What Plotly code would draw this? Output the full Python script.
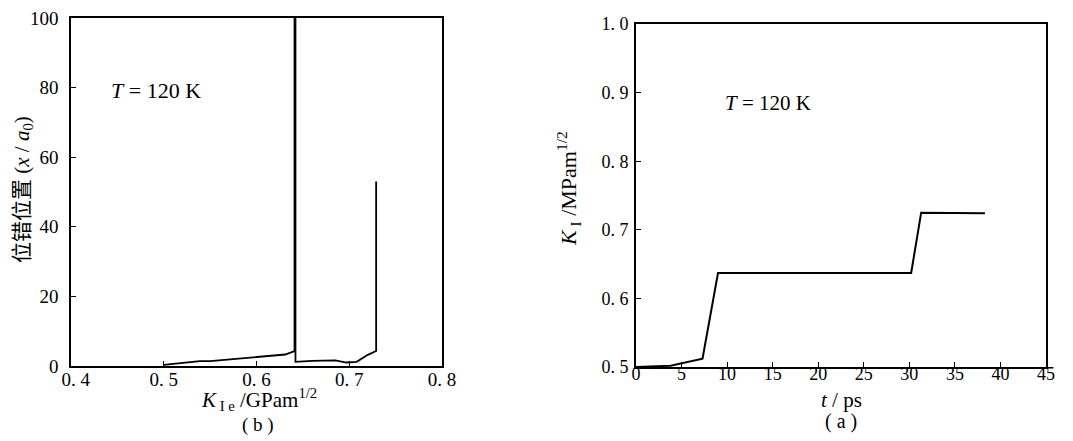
import plotly.graph_objects as go

# Left panel (b): dislocation position vs K_Ie
k_ie = [0.500, 0.519, 0.539, 0.550, 0.559, 0.573, 0.591, 0.605, 0.620, 0.631, 0.641, 0.641,
        0.642, 0.642, 0.660, 0.685, 0.697, 0.708, 0.720, 0.729, 0.729]
disl_pos = [0.3, 0.9, 1.4, 1.4, 1.6, 1.8, 2.2, 2.6, 3.0, 3.3, 4.3, 100,
            100, 1.2, 1.5, 1.6, 1.0, 1.2, 3.2, 4.3, 53]

# Right panel (a): K_I vs time
t_ps = [0.0, 3.8, 7.3, 9.0, 15.0, 20.0, 25.0, 30.2, 31.3, 35.0, 38.3]
k_i = [0.500, 0.502, 0.512, 0.637, 0.637, 0.637, 0.637, 0.637, 0.725, 0.725, 0.724]

left_xticks = [0.4, 0.5, 0.6, 0.7, 0.8]
left_xlabels = ["\u00a0\u00a00. 4", "0. 5", "0. 6", "0. 7", "0. 8"]
left_yticks = [0, 20, 40, 60, 80, 100]
right_xticks = [0, 5, 10, 15, 20, 25, 30, 35, 40, 45]
right_yticks = [0.5, 0.6, 0.7, 0.8, 0.9, 1.0]
right_ylabels = ["0. 5", "0. 6", "0. 7", "0. 8", "0. 9", "1. 0"]

W, H = 1073, 441
FONT = "Liberation Serif, Times New Roman, Noto Sans CJK SC, serif"

def px(x):
    return x / W

def py(y):
    return 1 - y / H

fig = go.Figure()
fig.add_trace(go.Scatter(x=k_ie, y=disl_pos, mode="lines",
                         line=dict(color="black", width=1.8),
                         xaxis="x", yaxis="y", showlegend=False))
fig.add_trace(go.Scatter(x=t_ps, y=k_i, mode="lines",
                         line=dict(color="black", width=2),
                         xaxis="x2", yaxis="y2", showlegend=False))

def axis_common(size):
    return dict(showline=True, linecolor="black", linewidth=1.6, mirror=True,
                ticks="inside", ticklen=5, tickwidth=1, tickcolor="black",
                showgrid=False, zeroline=False, automargin=False,
                ticklabeloverflow="allow",
                tickfont=dict(family=FONT, size=size, color="black"))

fig.update_layout(
    width=W, height=H, autosize=False,
    margin=dict(l=0, r=0, t=0, b=0),
    paper_bgcolor="white", plot_bgcolor="white",
    font=dict(family=FONT, color="black"),
    xaxis=dict(domain=[px(63), px(434)], range=[0.4, 0.8], anchor="y",
               tickvals=left_xticks, ticktext=left_xlabels, ticklabelstandoff=-5,
               **axis_common(19)),
    yaxis=dict(domain=[py(358), py(10)], range=[0, 100], anchor="x",
               tickvals=left_yticks, ticklabelstandoff=7, **axis_common(19)),
    xaxis2=dict(domain=[px(628), px(1038)], range=[0, 45], anchor="y2",
                tickvals=right_xticks, ticklabelstandoff=-10, **axis_common(18)),
    yaxis2=dict(domain=[py(359), py(16)], range=[0.5, 1.0], anchor="x2",
                tickvals=right_yticks, ticktext=right_ylabels, ticklabelstandoff=2,
                **axis_common(18)),
)

ann = [
    dict(x=px(148), y=py(82), text="<i>T</i> = 120 K", size=22, angle=0),
    dict(x=px(760), y=py(95), text="<i>T</i> = 120 K", size=21, angle=0),
    dict(x=px(251), y=py(391), text="<i>K</i><sub> I e</sub> /GPam<sup>1/2</sup>", size=21, angle=0),
    dict(x=px(250), y=py(417), text="( b )", size=19, angle=0),
    dict(x=px(833), y=py(392), text="<i>t</i> / ps", size=21, angle=0),
    dict(x=px(833), y=py(413), text="( a )", size=20, angle=0),
    dict(x=px(15), y=py(182), text="位错位置 (<i>x</i> / <i>a</i><sub>0</sub>)", size=21, angle=-90),
    dict(x=px(560), y=py(180), text="<i>K</i><sub> I</sub> /MPam<sup>1/2</sup>", size=22, angle=-90),
]
for a in ann:
    fig.add_annotation(x=a["x"], y=a["y"], xref="paper", yref="paper",
                       text=a["text"], showarrow=False, textangle=a["angle"],
                       xanchor="center", yanchor="middle",
                       font=dict(family=FONT, size=a["size"], color="black"))

fig.write_html("out.html")
